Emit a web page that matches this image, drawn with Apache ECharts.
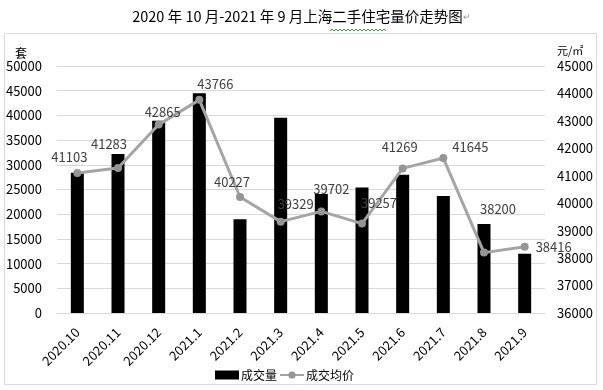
<!DOCTYPE html>
<html><head><meta charset="utf-8">
<script src="https://cdn.jsdelivr.net/npm/echarts@6/dist/echarts.min.js"></script>
<style>html,body{margin:0;padding:0;background:#fff}#c{width:603px;height:390px}</style>
</head><body><div id="c"></div>
<script>
const categories = ['2020.10','2020.11','2020.12','2021.1','2021.2','2021.3','2021.4','2021.5','2021.6','2021.7','2021.8','2021.9'];
const volume = [28400, 32200, 38900, 44500, 19000, 39500, 24100, 25400, 28000, 23700, 18000, 12000];
const avgPrice = [41103, 41283, 42865, 43766, 40227, 39329, 39702, 39257, 41269, 41645, 38200, 38416];
const leftTicks = {min: 0, max: 50000, interval: 5000};
const rightTicks = {min: 36000, max: 45000, interval: 1000};

// label offsets (styling only)
const labelOffsets = [[-8,-16],[-9,-24],[4,-13],[16,-16],[-8,-15],[15,-18],[10,-22],[17,-21],[-3,-21],[27,-11],[14,-44],[29,0]];

// decorative wavy underline under 二手住宅 in the title
const wave = [];
for (let x = 330; x <= 387; x += 2) wave.push([x, (x / 2) % 2 === 0 ? 29 : 31]);

const FONT = '"Noto Sans CJK SC", "Noto Sans", sans-serif';
const chart = echarts.init(document.getElementById('c'));
chart.setOption({
  animation: false,
  textStyle: {fontFamily: FONT},
  graphic: [{
    type: 'rect', shape: {x: 4.5, y: 33.5, width: 592, height: 351},
    style: {fill: 'none', stroke: '#d9d9d9', lineWidth: 1}, z: -1
  }, {
    type: 'polyline', shape: {points: wave},
    style: {fill: 'none', stroke: '#3c9a3c', lineWidth: 1}
  }],
  title: {
    text: '2020 年 10 月-2021 年 9 月上海二手住宅量价走势图{r|↵}',
    left: 'center', top: 4,
    textStyle: {fontSize: 14.5, fontWeight: 'normal', color: '#000', fontFamily: FONT,
      rich: {r: {fontSize: 9, color: '#999', fontFamily: FONT}}}
  },
  legend: {
    bottom: 4, left: 210, itemGap: 2, itemWidth: 24, itemHeight: 9,
    textStyle: {fontSize: 12, color: '#000', fontFamily: FONT, padding: [0,0,0,-3]},
    data: [{name: '成交量', icon: 'rect'}, {name: '成交均价'}]
  },
  grid: {left: 57, right: 58, top: 66, bottom: 77},
  xAxis: {
    type: 'category', data: categories,
    axisLine: {lineStyle: {color: '#d9d9d9'}},
    axisTick: {show: false},
    axisLabel: {rotate: 45, fontSize: 13, color: '#000', margin: 17, interval: 0}
  },
  yAxis: [{
    type: 'value', min: leftTicks.min, max: leftTicks.max, interval: leftTicks.interval,
    name: '套', nameLocation: 'end', nameGap: 5,
    nameTextStyle: {fontSize: 12, color: '#000', align: 'right', padding: [0, 30, 0, 0]},
    axisLabel: {fontSize: 13, color: '#000', margin: 15, formatter: v => String(v)},
    splitLine: {lineStyle: {color: '#d9d9d9'}},
    axisLine: {show: false}, axisTick: {show: false}
  }, {
    type: 'value', min: rightTicks.min, max: rightTicks.max, interval: rightTicks.interval,
    name: '元/㎡', nameLocation: 'end', nameGap: 10,
    nameTextStyle: {fontSize: 11, color: '#000', align: 'left', padding: [0, 0, 0, 12]},
    axisLabel: {fontSize: 13, color: '#000', margin: 12, formatter: v => String(v)},
    splitLine: {show: false},
    axisLine: {show: false}, axisTick: {show: false}
  }],
  series: [{
    name: '成交量', type: 'bar', data: volume, barWidth: '32%',
    itemStyle: {color: '#000'}
  }, {
    name: '成交均价', type: 'line', yAxisIndex: 1,
    data: avgPrice.map((v, i) => ({value: v, label: {offset: labelOffsets[i]}})),
    symbol: 'circle', symbolSize: 8,
    lineStyle: {color: '#a5a5a5', width: 3},
    itemStyle: {color: '#959595'},
    label: {show: true, position: 'inside', fontSize: 13, color: '#404040'}
  }]
});
</script></body></html>
